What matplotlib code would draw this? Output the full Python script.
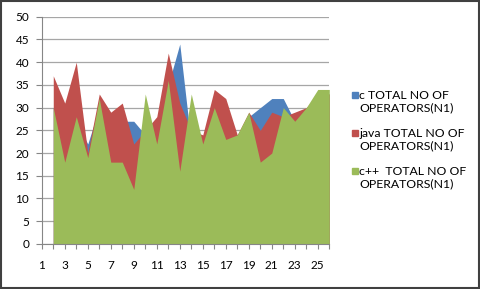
import matplotlib.pyplot as plt
from matplotlib.patches import Rectangle

# categories 2..26 (category 1 is empty in the source sheet)
programs = list(range(2, 27))
c_ops = [30, 25, 27, 22, 30, 26, 27, 27, 24, 25, 35, 44, 22, 22, 28, 25, 24, 28, 30, 32, 32, 27, 29, 33, 33]
java_ops = [37, 31, 40, 20, 33, 29, 31, 22, 25, 28, 42, 31, 25, 24, 34, 32, 24, 29, 25, 29, 28, 29, 30, 33, 33]
cpp_ops = [30, 18, 28, 19, 32, 18, 18, 12, 33, 22, 36, 16, 33, 22, 30, 23, 24, 29, 18, 20, 30, 27, 30, 34, 34]

labels = ["c TOTAL NO OF\nOPERATORS(N1)",
          "java TOTAL NO OF\nOPERATORS(N1)",
          "c++  TOTAL NO OF\nOPERATORS(N1)"]
colors = ["#4F81BD", "#C0504D", "#9BBB59"]

plt.rcParams['font.family'] = ['Lato', 'DejaVu Sans']

W, H = 480, 289
fig = plt.figure(figsize=(4.8, 2.89), dpi=100)
ax = fig.add_axes([0.087, 0.156, 0.599, 0.786])

for vals, lab, col in zip([c_ops, java_ops, cpp_ops], labels, colors):
    ax.fill_between(programs, 0, vals, color=col, linewidth=0, label=lab, zorder=2)

ax.set_xlim(1, 26)
ax.set_ylim(0, 50)
ax.set_yticks(range(0, 51, 5))
ax.set_xticks(range(1, 27))
ax.set_xticklabels([str(i) if i % 2 == 1 else "" for i in range(1, 27)])
ax.grid(axis='y', color='#a6a6a6', linewidth=0.9, zorder=1)
ax.tick_params(axis='both', labelsize=8.5, color='#868686', width=0.8)
ax.tick_params(axis='y', length=4, pad=5)
ax.tick_params(axis='x', length=3.5, pad=8)

for side in ['top', 'right']:
    ax.spines[side].set_visible(False)
for side in ['left', 'bottom']:
    ax.spines[side].set_color('#868686')

# legend in the Excel way: the square sits beside the first line of each entry
for i, (lab, col) in enumerate(zip(labels, colors)):
    y_px = 97 + i * 38
    fig.patches.append(Rectangle((352 / W, 1 - (y_px + 1) / H), 6 / W, 6 / H,
                                 transform=fig.transFigure, color=col))
    fig.text(359 / W, 1 - (y_px - 7) / H, lab, fontsize=8.8, va='top', ha='left',
             linespacing=1.15)

# outer frame of the chart
fig.patches.append(Rectangle((0.002, 0.004), 0.996, 0.992, transform=fig.transFigure,
                             fill=False, edgecolor='#404040', linewidth=1.5))

plt.savefig('out.png')
